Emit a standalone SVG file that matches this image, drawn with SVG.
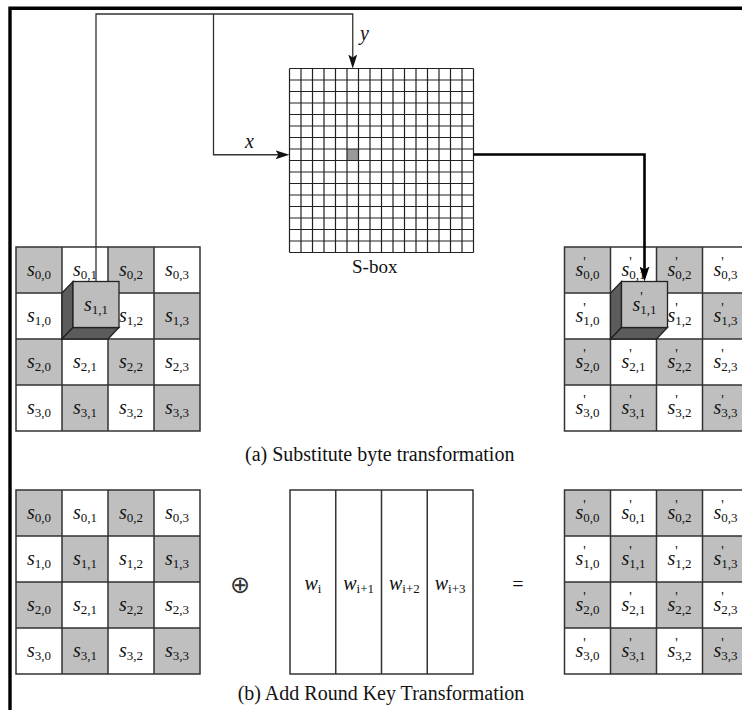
<svg xmlns="http://www.w3.org/2000/svg" width="742" height="710" viewBox="0 0 742 710">
<style>
.bg{fill:#fff}
.g{fill:#bfbfbf}
.grid{fill:none;stroke:#333;stroke-width:1.5}
.sgrid{fill:none;stroke:#222;stroke-width:1.2}
.t{font-family:"Liberation Serif","Times New Roman",serif;fill:#111}
.c{text-anchor:middle}
.it{font-style:italic;font-size:20px}
.sub{font-size:13px}
.pr{font-size:14px;font-style:normal}
.side{fill:#5c5c5c;stroke:#222;stroke-width:1.3}
.front{fill:#bdbdbd;stroke:#222;stroke-width:1.3}
.conn{fill:none;stroke:#333;stroke-width:1.3}
.thick{fill:none;stroke:#000;stroke-width:2.6}
.cap{font-size:20px}
</style>
<defs>
<marker id="ah" markerUnits="userSpaceOnUse" markerWidth="14" markerHeight="9" refX="4" refY="4.5" orient="auto"><path d="M0,0 L14,4.5 L0,9 L3,4.5 z" fill="#111"/></marker>
<marker id="ahb" markerUnits="userSpaceOnUse" markerWidth="15" markerHeight="10" refX="4" refY="5" orient="auto"><path d="M0,0 L15,5 L0,10 L3,5 z" fill="#000"/></marker>
</defs>
<rect width="742" height="710" fill="#fff"/>
<path d="M10,710 V8.3 H742" fill="none" stroke="#000" stroke-width="3.4"/>

<g id="sbox">
<rect class="bg" x="289.5" y="68.5" width="184" height="184"/>
<rect x="347" y="149" width="11.5" height="11.5" fill="#999"/>
<path class="sgrid" d="M289.5,68.5V252.5M301,68.5V252.5M312.5,68.5V252.5M324,68.5V252.5M335.5,68.5V252.5M347,68.5V252.5M358.5,68.5V252.5M370,68.5V252.5M381.5,68.5V252.5M393,68.5V252.5M404.5,68.5V252.5M416,68.5V252.5M427.5,68.5V252.5M439,68.5V252.5M450.5,68.5V252.5M462,68.5V252.5M473.5,68.5V252.5M289.5,68.5H473.5M289.5,80H473.5M289.5,91.5H473.5M289.5,103H473.5M289.5,114.5H473.5M289.5,126H473.5M289.5,137.5H473.5M289.5,149H473.5M289.5,160.5H473.5M289.5,172H473.5M289.5,183.5H473.5M289.5,195H473.5M289.5,206.5H473.5M289.5,218H473.5M289.5,229.5H473.5M289.5,241H473.5M289.5,252.5H473.5"/>
<text class="t" x="352" y="273" font-size="19">S-box</text>
</g>

<g id="state-in-a">
<rect class="bg" x="16" y="247" width="184" height="184"/>
<rect class="g" x="16" y="247" width="46" height="46"/><rect class="g" x="108" y="247" width="46" height="46"/>
<rect class="g" x="62" y="293" width="46" height="46"/><rect class="g" x="154" y="293" width="46" height="46"/>
<rect class="g" x="16" y="339" width="46" height="46"/><rect class="g" x="108" y="339" width="46" height="46"/>
<rect class="g" x="62" y="385" width="46" height="46"/><rect class="g" x="154" y="385" width="46" height="46"/>
<path class="grid" d="M16,247H200V431H16Z M62,247V431 M108,247V431 M154,247V431 M16,293H200 M16,339H200 M16,385H200"/>
<text class="t c" x="39" y="276"><tspan class="it">s</tspan><tspan class="sub" dy="3">0,0</tspan></text>
<text class="t c" x="85" y="276"><tspan class="it">s</tspan><tspan class="sub" dy="3">0,1</tspan></text>
<text class="t c" x="131" y="276"><tspan class="it">s</tspan><tspan class="sub" dy="3">0,2</tspan></text>
<text class="t c" x="177" y="276"><tspan class="it">s</tspan><tspan class="sub" dy="3">0,3</tspan></text>
<text class="t c" x="39" y="322"><tspan class="it">s</tspan><tspan class="sub" dy="3">1,0</tspan></text>
<text class="t c" x="131" y="322"><tspan class="it">s</tspan><tspan class="sub" dy="3">1,2</tspan></text>
<text class="t c" x="177" y="322"><tspan class="it">s</tspan><tspan class="sub" dy="3">1,3</tspan></text>
<text class="t c" x="39" y="368"><tspan class="it">s</tspan><tspan class="sub" dy="3">2,0</tspan></text>
<text class="t c" x="85" y="368"><tspan class="it">s</tspan><tspan class="sub" dy="3">2,1</tspan></text>
<text class="t c" x="131" y="368"><tspan class="it">s</tspan><tspan class="sub" dy="3">2,2</tspan></text>
<text class="t c" x="177" y="368"><tspan class="it">s</tspan><tspan class="sub" dy="3">2,3</tspan></text>
<text class="t c" x="39" y="414"><tspan class="it">s</tspan><tspan class="sub" dy="3">3,0</tspan></text>
<text class="t c" x="85" y="414"><tspan class="it">s</tspan><tspan class="sub" dy="3">3,1</tspan></text>
<text class="t c" x="131" y="414"><tspan class="it">s</tspan><tspan class="sub" dy="3">3,2</tspan></text>
<text class="t c" x="177" y="414"><tspan class="it">s</tspan><tspan class="sub" dy="3">3,3</tspan></text>
</g>
<g id="cube-in">
<polygon class="side" points="62,293 73,281.5 73,327.5 62,339"/>
<polygon class="side" points="62,339 73,327.5 119,327.5 108,339"/>
<rect class="front" x="73" y="281.5" width="46" height="46"/>
<text class="t c" x="96" y="310.5"><tspan class="it">s</tspan><tspan class="sub" dy="3">1,1</tspan></text>
</g>

<g id="state-out-a">
<rect class="bg" x="564.5" y="247" width="184" height="184"/>
<rect class="g" x="564.5" y="247" width="46" height="46"/><rect class="g" x="656.5" y="247" width="46" height="46"/>
<rect class="g" x="610.5" y="293" width="46" height="46"/><rect class="g" x="702.5" y="293" width="46" height="46"/>
<rect class="g" x="564.5" y="339" width="46" height="46"/><rect class="g" x="656.5" y="339" width="46" height="46"/>
<rect class="g" x="610.5" y="385" width="46" height="46"/><rect class="g" x="702.5" y="385" width="46" height="46"/>
<path class="grid" d="M564.5,247H748.5V431H564.5Z M610.5,247V431 M656.5,247V431 M702.5,247V431 M564.5,293H748.5 M564.5,339H748.5 M564.5,385H748.5"/>
<text class="t c" x="587.5" y="276"><tspan class="it">s</tspan><tspan class="pr" dy="-9">'</tspan><tspan class="sub" dx="-2.5" dy="12">0,0</tspan></text>
<text class="t c" x="633.5" y="276"><tspan class="it">s</tspan><tspan class="pr" dy="-9">'</tspan><tspan class="sub" dx="-2.5" dy="12">0,1</tspan></text>
<text class="t c" x="679.5" y="276"><tspan class="it">s</tspan><tspan class="pr" dy="-9">'</tspan><tspan class="sub" dx="-2.5" dy="12">0,2</tspan></text>
<text class="t c" x="725.5" y="276"><tspan class="it">s</tspan><tspan class="pr" dy="-9">'</tspan><tspan class="sub" dx="-2.5" dy="12">0,3</tspan></text>
<text class="t c" x="587.5" y="322"><tspan class="it">s</tspan><tspan class="pr" dy="-9">'</tspan><tspan class="sub" dx="-2.5" dy="12">1,0</tspan></text>
<text class="t c" x="679.5" y="322"><tspan class="it">s</tspan><tspan class="pr" dy="-9">'</tspan><tspan class="sub" dx="-2.5" dy="12">1,2</tspan></text>
<text class="t c" x="725.5" y="322"><tspan class="it">s</tspan><tspan class="pr" dy="-9">'</tspan><tspan class="sub" dx="-2.5" dy="12">1,3</tspan></text>
<text class="t c" x="587.5" y="368"><tspan class="it">s</tspan><tspan class="pr" dy="-9">'</tspan><tspan class="sub" dx="-2.5" dy="12">2,0</tspan></text>
<text class="t c" x="633.5" y="368"><tspan class="it">s</tspan><tspan class="pr" dy="-9">'</tspan><tspan class="sub" dx="-2.5" dy="12">2,1</tspan></text>
<text class="t c" x="679.5" y="368"><tspan class="it">s</tspan><tspan class="pr" dy="-9">'</tspan><tspan class="sub" dx="-2.5" dy="12">2,2</tspan></text>
<text class="t c" x="725.5" y="368"><tspan class="it">s</tspan><tspan class="pr" dy="-9">'</tspan><tspan class="sub" dx="-2.5" dy="12">2,3</tspan></text>
<text class="t c" x="587.5" y="414"><tspan class="it">s</tspan><tspan class="pr" dy="-9">'</tspan><tspan class="sub" dx="-2.5" dy="12">3,0</tspan></text>
<text class="t c" x="633.5" y="414"><tspan class="it">s</tspan><tspan class="pr" dy="-9">'</tspan><tspan class="sub" dx="-2.5" dy="12">3,1</tspan></text>
<text class="t c" x="679.5" y="414"><tspan class="it">s</tspan><tspan class="pr" dy="-9">'</tspan><tspan class="sub" dx="-2.5" dy="12">3,2</tspan></text>
<text class="t c" x="725.5" y="414"><tspan class="it">s</tspan><tspan class="pr" dy="-9">'</tspan><tspan class="sub" dx="-2.5" dy="12">3,3</tspan></text>
</g>
<g id="cube-out">
<polygon class="side" points="610.5,293 621.5,281.5 621.5,327.5 610.5,339"/>
<polygon class="side" points="610.5,339 621.5,327.5 667.5,327.5 656.5,339"/>
<rect class="front" x="621.5" y="281.5" width="46" height="46"/>
<text class="t c" x="644.5" y="310.5"><tspan class="it">s</tspan><tspan class="pr" dy="-9">'</tspan><tspan class="sub" dx="-2.5" dy="12">1,1</tspan></text>
</g>

<g id="caption-a"><text class="t cap" x="245" y="461">(a) Substitute byte transformation</text></g>

<g id="state-in-b">
<rect class="bg" x="16" y="490" width="184" height="184"/>
<rect class="g" x="16" y="490" width="46" height="46"/><rect class="g" x="108" y="490" width="46" height="46"/>
<rect class="g" x="62" y="536" width="46" height="46"/><rect class="g" x="154" y="536" width="46" height="46"/>
<rect class="g" x="16" y="582" width="46" height="46"/><rect class="g" x="108" y="582" width="46" height="46"/>
<rect class="g" x="62" y="628" width="46" height="46"/><rect class="g" x="154" y="628" width="46" height="46"/>
<path class="grid" d="M16,490H200V674H16Z M62,490V674 M108,490V674 M154,490V674 M16,536H200 M16,582H200 M16,628H200"/>
<text class="t c" x="39" y="519"><tspan class="it">s</tspan><tspan class="sub" dy="3">0,0</tspan></text>
<text class="t c" x="85" y="519"><tspan class="it">s</tspan><tspan class="sub" dy="3">0,1</tspan></text>
<text class="t c" x="131" y="519"><tspan class="it">s</tspan><tspan class="sub" dy="3">0,2</tspan></text>
<text class="t c" x="177" y="519"><tspan class="it">s</tspan><tspan class="sub" dy="3">0,3</tspan></text>
<text class="t c" x="39" y="565"><tspan class="it">s</tspan><tspan class="sub" dy="3">1,0</tspan></text>
<text class="t c" x="85" y="565"><tspan class="it">s</tspan><tspan class="sub" dy="3">1,1</tspan></text>
<text class="t c" x="131" y="565"><tspan class="it">s</tspan><tspan class="sub" dy="3">1,2</tspan></text>
<text class="t c" x="177" y="565"><tspan class="it">s</tspan><tspan class="sub" dy="3">1,3</tspan></text>
<text class="t c" x="39" y="611"><tspan class="it">s</tspan><tspan class="sub" dy="3">2,0</tspan></text>
<text class="t c" x="85" y="611"><tspan class="it">s</tspan><tspan class="sub" dy="3">2,1</tspan></text>
<text class="t c" x="131" y="611"><tspan class="it">s</tspan><tspan class="sub" dy="3">2,2</tspan></text>
<text class="t c" x="177" y="611"><tspan class="it">s</tspan><tspan class="sub" dy="3">2,3</tspan></text>
<text class="t c" x="39" y="657"><tspan class="it">s</tspan><tspan class="sub" dy="3">3,0</tspan></text>
<text class="t c" x="85" y="657"><tspan class="it">s</tspan><tspan class="sub" dy="3">3,1</tspan></text>
<text class="t c" x="131" y="657"><tspan class="it">s</tspan><tspan class="sub" dy="3">3,2</tspan></text>
<text class="t c" x="177" y="657"><tspan class="it">s</tspan><tspan class="sub" dy="3">3,3</tspan></text>
</g>

<g id="xor"><text x="240" y="593" text-anchor="middle" font-family="DejaVu Sans, sans-serif" font-size="24" fill="#333">⊕</text></g>

<g id="round-key">
<rect x="290" y="490" width="183" height="184" fill="#fff" stroke="#333" stroke-width="1.5"/>
<path class="grid" d="M335.75,490V674 M381.5,490V674 M427.25,490V674"/>
<text class="t c" x="312.9" y="590"><tspan class="it">w</tspan><tspan class="sub" dy="3">i</tspan></text>
<text class="t c" x="358.6" y="590"><tspan class="it">w</tspan><tspan class="sub" dy="3">i+1</tspan></text>
<text class="t c" x="404.4" y="590"><tspan class="it">w</tspan><tspan class="sub" dy="3">i+2</tspan></text>
<text class="t c" x="450.1" y="590"><tspan class="it">w</tspan><tspan class="sub" dy="3">i+3</tspan></text>
</g>

<g id="equals"><text class="t c" x="518" y="591" font-size="20" fill="#444">=</text></g>

<g id="state-out-b">
<rect class="bg" x="564.5" y="490" width="184" height="184"/>
<rect class="g" x="564.5" y="490" width="46" height="46"/><rect class="g" x="656.5" y="490" width="46" height="46"/>
<rect class="g" x="610.5" y="536" width="46" height="46"/><rect class="g" x="702.5" y="536" width="46" height="46"/>
<rect class="g" x="564.5" y="582" width="46" height="46"/><rect class="g" x="656.5" y="582" width="46" height="46"/>
<rect class="g" x="610.5" y="628" width="46" height="46"/><rect class="g" x="702.5" y="628" width="46" height="46"/>
<path class="grid" d="M564.5,490H748.5V674H564.5Z M610.5,490V674 M656.5,490V674 M702.5,490V674 M564.5,536H748.5 M564.5,582H748.5 M564.5,628H748.5"/>
<text class="t c" x="587.5" y="519"><tspan class="it">s</tspan><tspan class="pr" dy="-9">'</tspan><tspan class="sub" dx="-2.5" dy="12">0,0</tspan></text>
<text class="t c" x="633.5" y="519"><tspan class="it">s</tspan><tspan class="pr" dy="-9">'</tspan><tspan class="sub" dx="-2.5" dy="12">0,1</tspan></text>
<text class="t c" x="679.5" y="519"><tspan class="it">s</tspan><tspan class="pr" dy="-9">'</tspan><tspan class="sub" dx="-2.5" dy="12">0,2</tspan></text>
<text class="t c" x="725.5" y="519"><tspan class="it">s</tspan><tspan class="pr" dy="-9">'</tspan><tspan class="sub" dx="-2.5" dy="12">0,3</tspan></text>
<text class="t c" x="587.5" y="565"><tspan class="it">s</tspan><tspan class="pr" dy="-9">'</tspan><tspan class="sub" dx="-2.5" dy="12">1,0</tspan></text>
<text class="t c" x="633.5" y="565"><tspan class="it">s</tspan><tspan class="pr" dy="-9">'</tspan><tspan class="sub" dx="-2.5" dy="12">1,1</tspan></text>
<text class="t c" x="679.5" y="565"><tspan class="it">s</tspan><tspan class="pr" dy="-9">'</tspan><tspan class="sub" dx="-2.5" dy="12">1,2</tspan></text>
<text class="t c" x="725.5" y="565"><tspan class="it">s</tspan><tspan class="pr" dy="-9">'</tspan><tspan class="sub" dx="-2.5" dy="12">1,3</tspan></text>
<text class="t c" x="587.5" y="611"><tspan class="it">s</tspan><tspan class="pr" dy="-9">'</tspan><tspan class="sub" dx="-2.5" dy="12">2,0</tspan></text>
<text class="t c" x="633.5" y="611"><tspan class="it">s</tspan><tspan class="pr" dy="-9">'</tspan><tspan class="sub" dx="-2.5" dy="12">2,1</tspan></text>
<text class="t c" x="679.5" y="611"><tspan class="it">s</tspan><tspan class="pr" dy="-9">'</tspan><tspan class="sub" dx="-2.5" dy="12">2,2</tspan></text>
<text class="t c" x="725.5" y="611"><tspan class="it">s</tspan><tspan class="pr" dy="-9">'</tspan><tspan class="sub" dx="-2.5" dy="12">2,3</tspan></text>
<text class="t c" x="587.5" y="657"><tspan class="it">s</tspan><tspan class="pr" dy="-9">'</tspan><tspan class="sub" dx="-2.5" dy="12">3,0</tspan></text>
<text class="t c" x="633.5" y="657"><tspan class="it">s</tspan><tspan class="pr" dy="-9">'</tspan><tspan class="sub" dx="-2.5" dy="12">3,1</tspan></text>
<text class="t c" x="679.5" y="657"><tspan class="it">s</tspan><tspan class="pr" dy="-9">'</tspan><tspan class="sub" dx="-2.5" dy="12">3,2</tspan></text>
<text class="t c" x="725.5" y="657"><tspan class="it">s</tspan><tspan class="pr" dy="-9">'</tspan><tspan class="sub" dx="-2.5" dy="12">3,3</tspan></text>
</g>

<g id="caption-b"><text class="t cap c" x="381" y="700">(b) Add Round Key Transformation</text></g>

<g id="connectors">
<path class="conn" d="M96,281.5 V14 H352.75 V58.5" marker-end="url(#ah)"/>
<path class="conn" d="M213.5,14 V154.75 H279.5" marker-end="url(#ah)"/>
<path class="thick" d="M473.5,154.5 H644.5 V270.5" marker-end="url(#ahb)"/>
<text class="t it" x="360" y="40" font-size="19">y</text>
<text class="t it" x="245" y="148" font-size="19">x</text>
</g>
</svg>
